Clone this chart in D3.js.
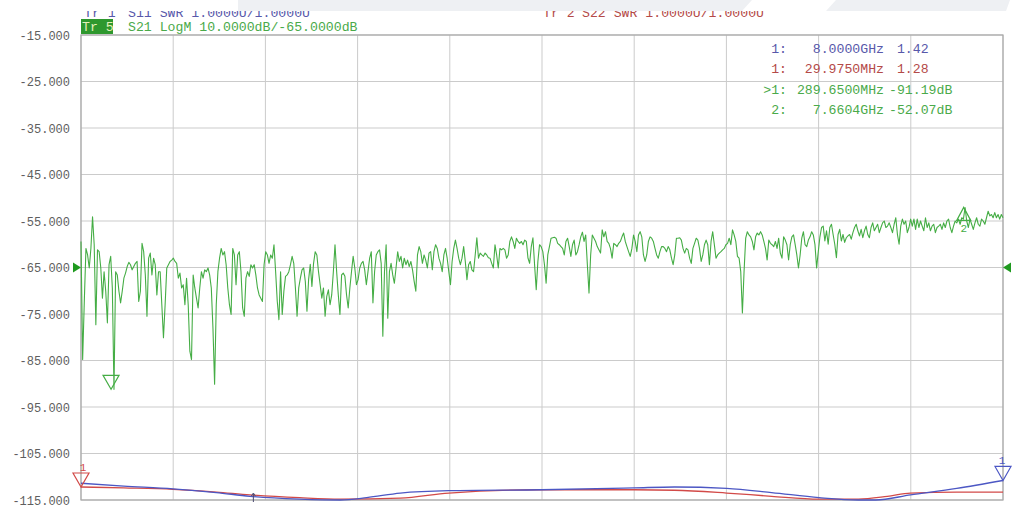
<!DOCTYPE html>
<html><head><meta charset="utf-8">
<script src="https://cdn.jsdelivr.net/npm/d3@7"></script>
<style>
html,body{margin:0;padding:0;background:#fff;}
svg{display:block;}
text{font-family:"Liberation Mono","DejaVu Sans Mono",monospace;white-space:pre;}
</style></head><body>
<svg id="chart" width="1014" height="509"></svg>
<script>
// ---------- data ----------
const startGHz = 0.03, stopGHz = 8.0;           // linear sweep
const yTicks = [-15,-25,-35,-45,-55,-65,-75,-85,-95,-105,-115];
const refLevel = -65;

// S21 LogM trace (dB), one value per sweep point
const s21dB = [
-59.4,-84.8,-72.3,-60.9,-62.3,-65.1,-60.9,-54.1,-60.1,-77.3,
-61.2,-61.6,-65.1,-71.6,-65.9,-70.1,-76.9,-64.4,-62.6,-69.4,
-91.2,-65.9,-66.6,-70.1,-72.6,-70.1,-67.3,-66.2,-64.8,-63.9,
-64.4,-65.5,-64.8,-64.1,-63.7,-72.3,-70.1,-59.8,-61.6,-66.6,
-75.5,-63.0,-61.9,-66.6,-63.0,-64.4,-70.9,-65.9,-65.9,-73.0,
-80.1,-73.0,-65.1,-64.4,-63.7,-63.4,-63.0,-63.7,-64.1,-67.3,
-66.2,-69.4,-68.7,-73.0,-67.3,-73.0,-83.0,-84.8,-66.6,-69.4,
-71.6,-73.7,-69.4,-65.9,-67.3,-65.5,-65.9,-65.1,-66.6,-69.4,
-78.0,-90.1,-73.0,-65.9,-63.0,-60.9,-62.3,-61.6,-64.4,-69.4,
-73.0,-75.1,-60.9,-62.3,-68.7,-62.3,-61.6,-65.9,-73.7,-75.5,
-67.3,-65.9,-66.9,-64.4,-65.1,-64.4,-66.6,-69.4,-70.9,-71.6,
-72.3,-64.4,-61.6,
-62.3,-64.1,-62.3,-63.0,-60.1,-65.9,-72.3,-76.2,-65.9,-75.1,
-70.1,-66.9,-66.6,-65.9,-64.4,-62.6,-64.1,-69.4,-75.5,-69.4,
-67.3,-65.5,-65.1,-68.0,-74.4,-67.6,-64.3,-69.1,-64.1,-61.6,
-62.3,-65.9,-68.7,-71.6,-69.4,-75.5,-71.2,-69.8,-73.0,-70.9,
-65.9,-60.1,-65.9,-70.9,-75.1,-66.6,-66.2,-66.9,-70.9,-73.7,
-69.4,-65.9,-62.6,-65.1,-68.7,-67.6,-65.1,-64.1,-63.7,-65.5,
-68.7,-65.9,-63.0,-61.6,-72.6,-65.9,-62.3,-61.6,-61.2,-64.1,
-79.8,-65.9,-60.1,-75.9,-65.9,-64.1,-66.6,-68.4,-65.1,-61.6,
-63.7,-62.6,-65.1,-63.0,-64.4,-63.4,-64.8,-63.7,-65.5,-68.0,
-70.1,-62.3,-60.5,-61.6,-64.1,-62.3,-63.4,-65.1,-61.9,-61.6,
-65.5,-61.6,-60.1,-60.9,-63.0,-64.1,-65.9,-62.3,-60.9,-63.0,
-65.9,-68.7,
-63.7,-60.9,-59.1,-60.9,-63.0,-64.4,-63.0,-60.5,-63.7,-67.6,
-64.4,-63.7,-65.5,-65.9,-62.3,-58.6,-63.0,-61.9,-62.3,-62.6,
-61.9,-62.3,-62.9,-63.0,-64.1,-65.1,-60.1,-62.3,-65.1,-60.9,
-61.2,-60.9,-61.2,-63.0,-62.3,-59.4,-58.4,-59.4,-60.9,-58.7,
-59.4,-59.8,-59.4,-60.1,-59.1,-59.4,-63.0,-64.1,-60.5,-58.6,
-64.4,-69.8,-63.7,-60.1,-60.5,-61.6,-64.4,-68.4,-62.3,-60.5,
-58.7,-58.6,-58.5,-58.7,-59.8,-60.1,-60.5,-60.9,-62.3,-59.4,
-58.7,-60.5,-62.6,-60.1,-59.1,-62.3,-61.6,-60.1,-58.4,-57.4,
-59.4,-58.0,-64.4,-70.5,-62.3,-58.0,-58.7,-59.4,-60.5,-61.2,
-61.9,-56.9,-58.4,-57.3,-59.4,-59.8,-60.9,-63.0,-59.8,-60.1,
-60.5,-59.8,-59.4,-58.4,-57.6,-59.4,-60.5,-61.6,-62.6,-60.9,
-58.0,-59.4,
-61.6,-58.0,-57.3,-58.4,-62.3,-63.7,-62.3,-59.4,-58.4,-58.7,
-59.4,-60.9,-62.3,-63.0,-61.6,-60.5,-60.5,-60.9,-61.6,-60.5,
-61.2,-63.0,-64.4,-62.3,-58.7,-58.7,-58.6,-59.1,-60.9,-61.9,
-60.9,-61.2,-63.0,-64.1,-60.9,-59.8,-58.7,-59.1,-60.9,-63.7,
-62.3,-60.1,-59.1,-60.1,-64.4,-59.4,-57.3,-60.1,-63.0,-62.3,
-61.9,-61.6,-61.2,-60.9,-60.1,-59.8,-58.7,-60.1,-56.9,-58.0,
-59.4,-62.6,-63.0,-65.9,-74.8,-65.9,
-58.7,-57.3,-58.0,-58.4,-59.4,-61.2,-58.4,-57.6,-58.0,-57.3,-58.0,-59.4,-60.9,
-63.4,
-59.1,-59.8,-60.1,-60.5,-59.4,-60.9,-58.7,-61.9,-63.0,-58.4,
-59.1,-60.1,-63.4,-60.1,-58.4,-58.0,-60.1,-62.3,-65.1,-62.3,
-58.7,-57.3,-60.1,-60.5,-59.1,-58.4,-57.3,-58.0,-60.1,-65.1,
-61.6,-58.4,
-56.4,-56.1,-59.3,-57.1,-60.0,-56.4,-55.7,-57.9,-60.0,-62.9,
-57.9,-56.8,
-59.3,-57.9,-59.6,-58.6,-58.2,-57.9,-58.9,-57.5,-56.4,-55.7,
-57.1,-58.2,-56.8,-58.6,-57.1,-56.1,-57.9,-58.6,-56.4,-55.4,
-57.1,-56.4,-55.7,-57.5,-56.4,-55.4,-55.0,-56.4,-56.1,-55.4,
-56.4,-57.5,-55.7,-54.3,
-57.9,-60.0,-56.1,-54.6,
-55.7,-55.0,-57.5,-56.4,-54.6,-56.1,-54.6,-56.8,-54.6,-56.4,
-55.0,-56.1,-57.1,-54.3,-56.4,-55.4,-57.1,-56.1,-55.7,-57.5,
-56.4,-56.1,-55.7,-56.8,-55.4,-56.4,-55.0,-54.6,-56.4,-57.5,
-56.1,-55.0,-55.4,-54.6,-55.7,-54.3,-54.6,
-52.1,
-55.0,-56.4,-54.6,-55.7,-56.8,-55.4,-54.3,-55.7,-56.1,-54.6,
-55.0,-55.7,-54.3,-52.9,-53.9,-53.6,-54.3,-53.2,-54.3,-53.6,
-54.6,-53.6,-54.3
];

// S11 SWR (blue) and S22 SWR (red): frequency (GHz) and SWR
const s11Freq = [0.03,0.4,0.825,1.2,1.49,1.92,2.27,2.5,2.79,3.21,4.01,4.81,5.16,5.61,6.0,6.41,6.75,6.9,7.2,7.6,8.0];
const s11Swr  = [1.36,1.30,1.24,1.16,1.08,1.02,1.00,1.05,1.15,1.20,1.22,1.26,1.28,1.25,1.16,1.05,1.00,1.00,1.11,1.25,1.42];
const s22Freq = [0.03,0.4,0.825,1.2,1.49,1.92,2.27,2.79,3.21,4.01,4.81,5.16,5.61,6.0,6.41,6.75,7.0,7.2,7.6,8.0];
const s22Swr  = [1.28,1.26,1.23,1.17,1.11,1.05,1.02,1.04,1.15,1.22,1.22,1.21,1.15,1.08,1.02,1.02,1.08,1.15,1.17,1.17];

// Marker readout
const mkLabels = ["1:", "1:", ">1:", "2:"];
const mkFreqs  = ["8.0000GHz", "29.9750MHz", "289.6500MHz", "7.6604GHz"];
const mkVals   = ["1.42", "1.28", "-91.19dB", "-52.07dB"];
const mkTrace  = ["s11", "s22", "s21", "s21"];

// Header texts
const hdrTr   = ["Tr 1", "Tr 2", "Tr 5"];
const hdrDesc = ["S11 SWR 1.0000U/1.0000U", "S22 SWR 1.0000U/1.0000U", "S21 LogM 10.0000dB/-65.0000dB"];

// ---------- drawing ----------
const col = {s11:"#4c57c4", s22:"#d24a48", s21:"#45ad45"};
const txt = {s11:"#5858aa", s22:"#b44a48", s21:"#4aaa4a"};
const svg = d3.select("#chart");
const L = 81, R = 1003, T = 35, B = 500;
const x = d3.scaleLinear().domain([startGHz, stopGHz]).range([L, R]);
const y = d3.scaleLinear().domain([-115, -15]).range([B, T]);
const ySwr = d3.scaleLinear().domain([1, 11]).range([B, T]);
const N = s21dB.length;
const freqAt = i => startGHz + i * (stopGHz - startGHz) / (N - 1);

// top banner
svg.append("polygon").attr("points", "238,0 1010,0 1006,11 238,11").attr("fill", "#eef0f3");
svg.append("polygon").attr("points", "742,11 752,0 836,0 826,11").attr("fill", "#ffffff");

// grid
const gridF = d3.range(11).map(k => startGHz + k * (stopGHz - startGHz) / 10);
svg.append("g").selectAll("line").data(gridF).join("line")
  .attr("x1", d => x(d)).attr("x2", d => x(d)).attr("y1", T).attr("y2", B)
  .attr("stroke", "#cbcbcb").attr("stroke-width", 1);
svg.append("g").selectAll("line").data(yTicks).join("line")
  .attr("x1", L).attr("x2", R).attr("y1", d => y(d)).attr("y2", d => y(d))
  .attr("stroke", "#cbcbcb").attr("stroke-width", 1);
svg.append("rect").attr("x", L).attr("y", T).attr("width", R - L).attr("height", B - T)
  .attr("fill", "none").attr("stroke", "#a8a8a8").attr("stroke-width", 1.2);

// y axis labels
const ax = svg.append("g").attr("transform", `translate(${L},0)`)
  .call(d3.axisLeft(y).tickValues(yTicks).tickFormat(d => d.toFixed(3)).tickSize(0).tickPadding(11));
ax.select(".domain").remove();
ax.selectAll("text").attr("font-family", "Liberation Mono, DejaVu Sans Mono, monospace")
  .attr("font-size", 12).attr("fill", "#5e5e5e").attr("dy", "0.36em");

// SWR traces
const swrLine = d3.line().curve(d3.curveMonotoneX).x(d => x(d[0])).y(d => ySwr(d[1]));
svg.append("path").datum(s22Freq.map((f, i) => [f, s22Swr[i]])).attr("d", swrLine)
  .attr("fill", "none").attr("stroke", col.s22).attr("stroke-width", 1.3);
svg.append("path").datum(s11Freq.map((f, i) => [f, s11Swr[i]])).attr("d", swrLine)
  .attr("fill", "none").attr("stroke", col.s11).attr("stroke-width", 1.3);

// S21 trace
const s21Line = d3.line().x((d, i) => x(freqAt(i))).y(d => y(d));
svg.append("path").datum(s21dB).attr("d", s21Line)
  .attr("fill", "none").attr("stroke", col.s21).attr("stroke-width", 1.1).attr("stroke-linejoin", "round");

// markers
function downTri(px, py, c) {
  svg.append("path").attr("d", `M${px},${py} L${px-8},${py-14} L${px+8},${py-14} Z`)
    .attr("fill", "none").attr("stroke", c).attr("stroke-width", 1.2);
}
function upTri(px, py, c) {
  svg.append("path").attr("d", `M${px},${py} L${px-7},${py+13} L${px+7},${py+13} Z`)
    .attr("fill", "none").attr("stroke", c).attr("stroke-width", 1.2);
}
// S21 marker 1 (active) and marker 2
downTri(x(0.28965), y(-91.19), col.s21);
upTri(x(7.6604), y(-52.07), col.s21);
svg.append("text").attr("x", x(7.6604)).attr("y", y(-52.07) + 25).attr("text-anchor", "middle")
  .attr("font-size", 11).attr("fill", col.s21).text("2");
// S22 marker 1 (left), S11 marker 1 (right)
downTri(x(0.029975), ySwr(1.28), col.s22);
svg.append("text").attr("x", x(0.029975) + 2).attr("y", ySwr(1.28) - 16).attr("text-anchor", "middle")
  .attr("font-size", 11).attr("fill", col.s22).text("1");
downTri(x(8.0), ySwr(1.42), col.s11);
svg.append("text").attr("x", x(8.0) - 1).attr("y", ySwr(1.42) - 16).attr("text-anchor", "middle")
  .attr("font-size", 11).attr("fill", col.s11).text("1");
// small stimulus tick
svg.append("path").attr("d", `M${x(1.52)},${B-6} L${x(1.52)},${B+2} M${x(1.52)-2},${B-4} L${x(1.52)},${B-7} L${x(1.52)+2},${B-4}`)
  .attr("stroke", "#4a4a70").attr("stroke-width", 1).attr("fill", "none");

// reference level arrows
const yr = y(refLevel);
svg.append("path").attr("d", `M${L},${yr} L${L-8},${yr-5} L${L-8},${yr+5} Z`).attr("fill", "#1f9a1f");
svg.append("path").attr("d", `M${R},${yr} L${R+8},${yr-5} L${R+8},${yr+5} Z`).attr("fill", "#1f9a1f");

// marker readout
const ro = svg.append("g").attr("font-size", 13.2);
mkLabels.forEach((lab, i) => {
  const yy = 53 + i * 20.3, c = txt[mkTrace[i]];
  ro.append("text").attr("x", 787).attr("y", yy).attr("text-anchor", "end").attr("fill", c).text(lab);
  ro.append("text").attr("x", 884).attr("y", yy).attr("text-anchor", "end").attr("fill", c).text(mkFreqs[i]);
  ro.append("text").attr("x", 889).attr("y", yy).attr("fill", c)
    .text(mkVals[i].startsWith("-") ? mkVals[i] : " " + mkVals[i]);
});

// header
svg.append("clipPath").attr("id", "hclip").append("rect").attr("x", 0).attr("y", 11).attr("width", 1014).attr("height", 30);
const hd = svg.append("g").attr("font-size", 13.2).attr("clip-path", "url(#hclip)");
hd.append("text").attr("x", 84).attr("y", 17).attr("fill", txt.s11).text(hdrTr[0]);
hd.append("text").attr("x", 128).attr("y", 17).attr("fill", txt.s11).text(hdrDesc[0]);
hd.append("text").attr("x", 543).attr("y", 17).attr("fill", txt.s22).text(hdrTr[1]);
hd.append("text").attr("x", 582).attr("y", 17).attr("fill", txt.s22).text(hdrDesc[1]);
svg.append("rect").attr("x", 81).attr("y", 19).attr("width", 32).attr("height", 15).attr("fill", "#2e982e");
svg.append("text").attr("x", 82).attr("y", 31).attr("font-size", 13.2).attr("fill", "#e4f0b8").text(hdrTr[2]);
svg.append("text").attr("x", 128).attr("y", 31).attr("font-size", 13.2).attr("fill", txt.s21).text(hdrDesc[2]);
</script>
</body></html>
